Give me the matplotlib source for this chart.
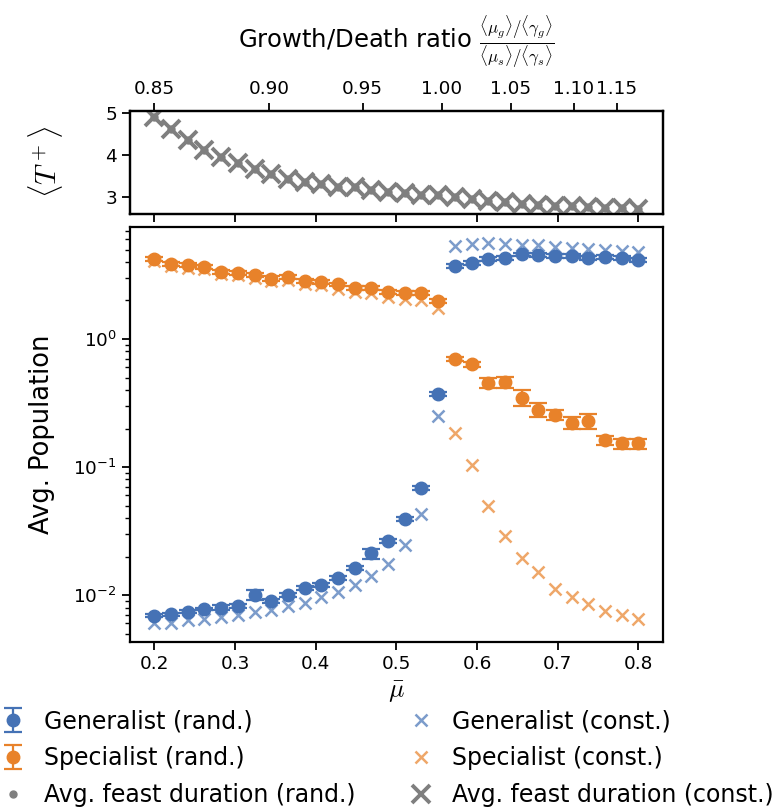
import matplotlib
matplotlib.use("Agg")
import matplotlib.pyplot as plt
import numpy as np

plt.rcParams["mathtext.fontset"] = "cm"

# --- data ----------------------------------------------------------------
mu = np.linspace(0.2, 0.8, 30)

gen_rand = [0.0069, 0.0071, 0.0074, 0.0078, 0.0080, 0.0082, 0.0100, 0.0090, 0.0100, 0.0113,
            0.0120, 0.0137, 0.0164, 0.0212, 0.0265, 0.0395, 0.069, 0.372, 3.72, 3.90,
            4.24, 4.32, 4.58, 4.53, 4.45, 4.45, 4.32, 4.40, 4.32, 4.14]
gen_rand_err = [0.0002, 0.0002, 0.0002, 0.0002, 0.0003, 0.0003, 0.0009, 0.0003, 0.0003, 0.0004,
                0.0004, 0.0005, 0.0006, 0.0019, 0.0009, 0.0014, 0.0024, 0.013, 0.13, 0.14,
                0.15, 0.15, 0.16, 0.16, 0.16, 0.16, 0.15, 0.15, 0.15, 0.15]
spec_rand = [4.19, 3.87, 3.78, 3.65, 3.35, 3.27, 3.16, 2.97, 3.05, 2.83,
             2.79, 2.67, 2.51, 2.51, 2.34, 2.30, 2.30, 1.98, 0.70, 0.637,
             0.452, 0.460, 0.349, 0.279, 0.255, 0.222, 0.229, 0.162, 0.153, 0.153]
spec_rand_err = [0.15, 0.14, 0.13, 0.13, 0.12, 0.12, 0.11, 0.11, 0.11, 0.10,
                 0.10, 0.09, 0.09, 0.09, 0.08, 0.08, 0.08, 0.07, 0.03, 0.03,
                 0.04, 0.045, 0.05, 0.035, 0.022, 0.022, 0.03, 0.014, 0.014, 0.014]
gen_const = [0.0060, 0.0061, 0.0064, 0.0065, 0.0068, 0.0070, 0.0074, 0.0076, 0.0082, 0.0087,
             0.0096, 0.0105, 0.0120, 0.0142, 0.0176, 0.0247, 0.0432, 0.252, 5.33, 5.56,
             5.59, 5.56, 5.43, 5.43, 5.27, 5.17, 5.01, 4.96, 4.87, 4.79]
spec_const = [4.05, 3.72, 3.62, 3.50, 3.25, 3.15, 3.02, 2.86, 2.88, 2.68,
              2.62, 2.47, 2.32, 2.28, 2.12, 2.05, 2.03, 1.76, 0.186, 0.1047,
              0.0496, 0.0292, 0.0194, 0.0151, 0.0111, 0.0097, 0.0085, 0.0075, 0.0070, 0.0065]

feast_rand = [4.90, 4.62, 4.36, 4.12, 3.95, 3.80, 3.66, 3.55, 3.44, 3.36,
              3.31, 3.25, 3.23, 3.17, 3.12, 3.09, 3.06, 3.05, 3.00, 2.96,
              2.91, 2.88, 2.83, 2.82, 2.79, 2.78, 2.77, 2.75, 2.74, 2.73]
feast_const = [4.91, 4.63, 4.36, 4.12, 3.95, 3.80, 3.66, 3.55, 3.43, 3.36,
               3.31, 3.25, 3.23, 3.17, 3.12, 3.09, 3.06, 3.05, 3.00, 2.96,
               2.91, 2.88, 2.83, 2.82, 2.79, 2.78, 2.77, 2.75, 2.74, 2.73]

# growth/death ratio ticks and the mu at which each one sits
ratio_labels = ["0.85", "0.90", "0.95", "1.00", "1.05", "1.10", "1.15"]
ratio_tick_mu = [0.2, 0.342, 0.458, 0.556, 0.642, 0.720, 0.773]

BLUE = "#4572b5"
ORANGE = "#e8822a"
GRAY = "#7f7f7f"

fig = plt.figure(figsize=(7.75, 8.09), dpi=100)
ax_t = fig.add_axes([0.168, 0.7355, 0.687, 0.1275])
ax = fig.add_axes([0.168, 0.2064, 0.687, 0.513], sharex=ax_t)

TICK = 13.3
LAB = 18.5

# --- top panel: feast duration -------------------------------------------
h_fr, = ax_t.plot(mu, feast_rand, "o", color=GRAY, ms=5, ls="none", zorder=2)
h_fc, = ax_t.plot(mu, feast_const, "x", color=GRAY, ms=12.5, mew=2.8, ls="none", zorder=3)
ax_t.set_ylim(2.6, 5.05)
ax_t.set_yticks([3, 4, 5])
ax_t.set_ylabel(r"$\langle T^+\rangle$", fontsize=21)
ax_t.tick_params(labelsize=TICK, labelbottom=False, width=1.3, length=6)

ax_r = ax_t.twiny()
ax_r.set_xlim(ax_t.get_xlim())
ax_r.set_xticks(ratio_tick_mu, ratio_labels)
ax_r.tick_params(labelsize=TICK, width=1.3, length=6)
ax_r.set_xlabel(r"Growth/Death ratio $\frac{\langle\mu_g\rangle/\langle\gamma_g\rangle}"
                r"{\langle\mu_s\rangle/\langle\gamma_s\rangle}$", fontsize=17.5, labelpad=22)

# --- main panel: populations ---------------------------------------------
err_kw = dict(fmt="o", ms=9, capsize=6.5, capthick=1.6, elinewidth=1.6, ls="none")
h_gr = ax.errorbar(mu, gen_rand, yerr=gen_rand_err, color=BLUE, zorder=3, **err_kw)
h_sr = ax.errorbar(mu, spec_rand, yerr=spec_rand_err, color=ORANGE, zorder=3, **err_kw)
h_gc, = ax.plot(mu, gen_const, "x", color=BLUE, alpha=0.7, ms=8, mew=1.8, ls="none", zorder=2)
h_sc, = ax.plot(mu, spec_const, "x", color=ORANGE, alpha=0.7, ms=8, mew=1.8, ls="none", zorder=2)

ax.set_yscale("log")
ax.set_ylim(0.0043, 7.5)
ax.set_xticks([0.2, 0.3, 0.4, 0.5, 0.6, 0.7, 0.8])
ax.set_xlabel(r"$\bar{\mu}$", fontsize=LAB)
ax.set_ylabel("Avg. Population", fontsize=LAB)
ax.tick_params(labelsize=TICK, width=1.3, length=6)
ax.tick_params(which="minor", width=1.0, length=3.5)

ax.yaxis.set_label_coords(-0.141, 0.5)
ax_t.yaxis.set_label_coords(-0.123, 0.5)

for a in (ax, ax_t, ax_r):
    for s in a.spines.values():
        s.set_linewidth(1.6)

fig.legend(
    [h_gr, h_sr, h_fr, h_gc, h_sc, h_fc],
    ["Generalist (rand.)", "Specialist (rand.)", "Avg. feast duration (rand.)",
     "Generalist (const.)", "Specialist (const.)", "Avg. feast duration (const.)"],
    loc="upper center", bbox_to_anchor=(0.5, 0.135), ncol=2, frameon=False,
    fontsize=17, handlelength=1.0, handletextpad=0.8, columnspacing=2.3,
    labelspacing=0.55, borderaxespad=0,
)

fig.savefig("out.png", dpi=100)
